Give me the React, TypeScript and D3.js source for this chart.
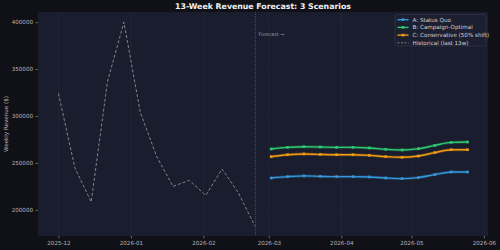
import React, { useEffect, useRef } from 'react';
import * as d3 from 'd3';

// weekly dates (Mondays)
const histStart = '2025-12-01';
const forecastStart = '2026-03-02';

const historical = [324000, 245000, 208500, 337000, 400000, 304000, 257000, 225000, 231500, 215500, 243500, 218000, 183000];
const statusQuo = [234000, 235400, 236200, 235700, 235400, 235400, 235100, 234000, 233300, 234400, 237600, 240400, 240400];
const campaignOptimal = [264900, 266600, 267300, 267000, 266600, 266600, 266000, 264500, 263800, 265200, 268700, 271900, 272300];
const conservative = [256700, 258800, 259600, 259100, 258800, 258800, 258100, 256700, 256000, 257400, 261000, 264100, 264100];

const yTicks = [200000, 250000, 300000, 350000, 400000];

const App = () => {
  const chartRef = useRef(null);

  useEffect(() => {
    if (!chartRef.current) return;
    document.body.style.margin = '0';
    d3.select(chartRef.current).selectAll('*').remove();

    const width = 500;
    const height = 250;
    const margin = { top: 12, right: 12, bottom: 14, left: 38 };
    const font = 'DejaVu Sans, sans-serif';

    const weeks = (start, n) => d3.range(n).map(i => d3.timeDay.offset(new Date(start + 'T00:00:00'), i * 7));
    const histDates = weeks(histStart, historical.length);
    const fcDates = weeks(forecastStart, statusQuo.length);

    const svg = d3.select(chartRef.current)
      .append('svg')
      .attr('width', width)
      .attr('height', height)
      .style('display', 'block');

    svg.append('rect').attr('width', width).attr('height', height).attr('fill', '#101116');

    const x0 = histDates[0].getTime();
    const x1 = fcDates[fcDates.length - 1].getTime();
    const xPad = (x1 - x0) * 0.05;
    const x = d3.scaleTime()
      .domain([new Date(x0 - xPad), new Date(x1 + xPad)])
      .range([margin.left, width - margin.right]);

    const allVals = historical.concat(statusQuo, campaignOptimal, conservative);
    const yMin = d3.min(allVals);
    const yMax = d3.max(allVals);
    const yPad = (yMax - yMin) * 0.05;
    const y = d3.scaleLinear()
      .domain([yMin - yPad, yMax + yPad])
      .range([height - margin.bottom, margin.top]);

    svg.append('rect')
      .attr('x', margin.left)
      .attr('y', margin.top)
      .attr('width', width - margin.left - margin.right)
      .attr('height', height - margin.top - margin.bottom)
      .attr('fill', '#1a1d2e');

    const xTicks = d3.timeMonth.range(new Date('2025-12-01T00:00:00'), new Date('2026-06-02T00:00:00'));

    // grid
    const grid = svg.append('g');
    grid.selectAll('.vg').data(xTicks).enter().append('line')
      .attr('x1', d => x(d)).attr('x2', d => x(d))
      .attr('y1', margin.top).attr('y2', height - margin.bottom)
      .attr('stroke', '#262a3c').attr('stroke-width', 0.6);
    grid.selectAll('.hg').data(yTicks).enter().append('line')
      .attr('x1', margin.left).attr('x2', width - margin.right)
      .attr('y1', d => y(d)).attr('y2', d => y(d))
      .attr('stroke', '#212536').attr('stroke-width', 0.6);

    // axes
    const xAxis = svg.append('g')
      .attr('transform', `translate(0,${height - margin.bottom})`)
      .call(d3.axisBottom(x).tickValues(xTicks).tickFormat(d3.timeFormat('%Y-%m')).tickSize(2.5).tickPadding(2.5));
    const yAxis = svg.append('g')
      .attr('transform', `translate(${margin.left},0)`)
      .call(d3.axisLeft(y).tickValues(yTicks).tickFormat(d3.format('d')).tickSize(2.5).tickPadding(2.5));
    [xAxis, yAxis].forEach(a => {
      a.select('.domain').remove();
      a.selectAll('line').attr('stroke', '#9a9aa2').attr('stroke-width', 0.6);
      a.selectAll('text').attr('fill', '#b4b4bc').style('font-family', font).style('font-size', '5.6px');
    });

    // forecast divider
    const divX = x(d3.timeHour.offset(histDates[histDates.length - 1], 6));
    svg.append('line')
      .attr('x1', divX).attr('x2', divX)
      .attr('y1', margin.top).attr('y2', height - margin.bottom)
      .attr('stroke', '#6a6d7a').attr('stroke-width', 0.8)
      .attr('stroke-dasharray', '0.8,1.2');
    svg.append('text')
      .attr('x', divX + 3).attr('y', 36)
      .attr('fill', '#9a9ca6')
      .style('font-family', font).style('font-size', '4.8px')
      .text('Forecast →');

    // historical
    const line = d3.line().x(d => x(d[0])).y(d => y(d[1]));
    svg.append('path')
      .datum(histDates.map((d, i) => [d, historical[i]]))
      .attr('d', line)
      .attr('fill', 'none')
      .attr('stroke', '#8e8e98')
      .attr('stroke-width', 0.9)
      .attr('stroke-dasharray', '3,2');

    const series = [
      { name: 'A: Status Quo', values: statusQuo, color: '#3498db' },
      { name: 'B: Campaign-Optimal', values: campaignOptimal, color: '#2ecc71' },
      { name: 'C: Conservative (50% shift)', values: conservative, color: '#f39c12' },
    ];

    series.forEach(s => {
      const pts = fcDates.map((d, i) => [d, s.values[i]]);
      svg.append('path')
        .datum(pts)
        .attr('d', line.curve(d3.curveMonotoneX))
        .attr('fill', 'none')
        .attr('stroke', s.color)
        .attr('stroke-opacity', 0.25)
        .attr('stroke-width', 3);
      svg.append('path')
        .datum(pts)
        .attr('d', line.curve(d3.curveMonotoneX))
        .attr('fill', 'none')
        .attr('stroke', s.color)
        .attr('stroke-width', 1.4);
      svg.selectAll(null).data(pts).enter().append('rect')
        .attr('x', d => x(d[0]) - 1.3)
        .attr('y', d => y(d[1]) - 1.3)
        .attr('width', 2.6).attr('height', 2.6)
        .attr('fill', s.color);
    });
    line.curve(d3.curveLinear);

    // legend
    const lg = svg.append('g').attr('transform', 'translate(395,14.5)');
    lg.append('rect')
      .attr('width', 91).attr('height', 31.5).attr('rx', 1.5)
      .attr('fill', '#1c1f30').attr('stroke', '#3a3d4e').attr('stroke-width', 0.6);
    const items = series.map(s => ({ name: s.name, color: s.color, dash: null, marker: true }))
      .concat([{ name: 'Historical (last 13w)', color: '#8e8e98', dash: '2,1.5', marker: false }]);
    items.forEach((it, i) => {
      const g = lg.append('g').attr('transform', `translate(0,${5.2 + i * 7.7})`);
      g.append('line')
        .attr('x1', 2.5).attr('x2', 13.5)
        .attr('stroke', it.color)
        .attr('stroke-width', it.marker ? 1.4 : 0.9)
        .attr('stroke-dasharray', it.dash);
      if (it.marker) {
        g.append('rect').attr('x', 6.7).attr('y', -1.3).attr('width', 2.6).attr('height', 2.6).attr('fill', it.color);
      }
      g.append('text')
        .attr('x', 17.5).attr('y', 2)
        .attr('fill', '#d0d0d6')
        .style('font-family', font).style('font-size', '5.6px')
        .text(it.name);
    });

    // title & label
    svg.append('text')
      .attr('x', (margin.left + width - margin.right) / 2)
      .attr('y', 9)
      .attr('text-anchor', 'middle')
      .attr('fill', '#f2f2f5')
      .style('font-family', font).style('font-size', '7.8px').style('font-weight', 'bold')
      .text('13-Week Revenue Forecast: 3 Scenarios');
    svg.append('text')
      .attr('transform', `translate(8,${(margin.top + height - margin.bottom) / 2}) rotate(-90)`)
      .attr('text-anchor', 'middle')
      .attr('fill', '#b4b4bc')
      .style('font-family', font).style('font-size', '5.6px')
      .text('Weekly Revenue ($)');
  }, []);

  return <div ref={chartRef}></div>;
};

export default App;
